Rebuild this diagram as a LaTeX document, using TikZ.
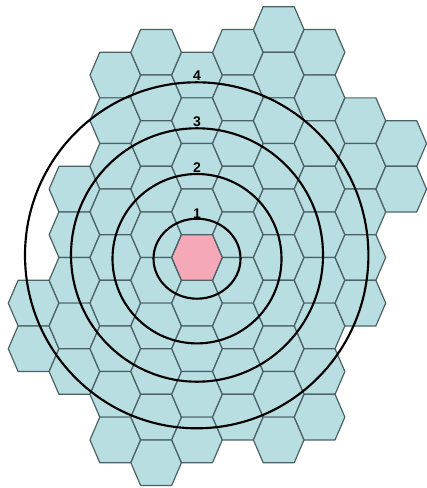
\documentclass[tikz,border=0pt]{standalone}
\usepackage{fontspec}
\setmainfont{Liberation Sans}
\tikzset{every picture/.style={line width=0.75pt}}
\tikzset{
  hexcell/.style={draw={rgb, 255:red, 74; green, 98; blue, 102}, fill={rgb, 255:red, 184; green, 222; blue, 225}, line width=0.9pt, line join=round},
  centrecell/.style={hexcell, fill={rgb, 255:red, 245; green, 168; blue, 184}},
  ring/.style={draw=black, line width=1.6pt},
  ringlabel/.style={inner sep=0.75pt, font=\fontsize{10.5}{12}\selectfont\bfseries}
}

\begin{document}
\begin{tikzpicture}[x=0.75pt,y=0.75pt,yscale=-1,xscale=1]
\useasboundingbox (0,0) rectangle (426,488);

%Shape: Hexagon cells, column by column [k / first row / last row]
\foreach \k/\jmin/\jmax in {-4/2/4, -3/-3/5, -2/-8/8, -1/-9/9, 0/-8/8, 1/-9/7, 2/-10/8, 3/-9/7, 4/-6/2, 5/-5/-3}{
  \pgfmathtruncatemacro{\jnext}{\jmin+2}
  \foreach \j in {\jmin,\jnext,...,\jmax}{
    \draw [hexcell, shift={({197+40.85*(\k)},{257.5+22.8*(\j)})}] (-25.3,0) -- (-15.5,-22.8) -- (15.5,-22.8) -- (25.3,0) -- (15.5,22.8) -- (-15.5,22.8) -- cycle ;
  }
}
%Shape: Centre cell
    \draw [centrecell, shift={(197,257.5)}] (-25.3,0) -- (-15.5,-22.8) -- (15.5,-22.8) -- (25.3,0) -- (15.5,22.8) -- (-15.5,22.8) -- cycle ;

%Shape: Rings
    \draw [ring] (197,258.7) ellipse [x radius=43.5, y radius=40] ;
    \draw [ring] (197,258.7) ellipse [x radius=84.5, y radius=84.7] ;
    \draw [ring] (197,255) ellipse [x radius=126, y radius=126.7] ;
    \draw [ring] (196.7,255.3) ellipse [x radius=171.7, y radius=173] ;

% Text Node
    \node (lbl1) [ringlabel] at (197,213.3) {1};
% Text Node
    \node (lbl2) [ringlabel] at (197,167.3) {2};
% Text Node
    \node (lbl3) [ringlabel] at (197,121.7) {3};
% Text Node
    \node (lbl4) [ringlabel] at (197,76) {4};

\end{tikzpicture}
\end{document}
